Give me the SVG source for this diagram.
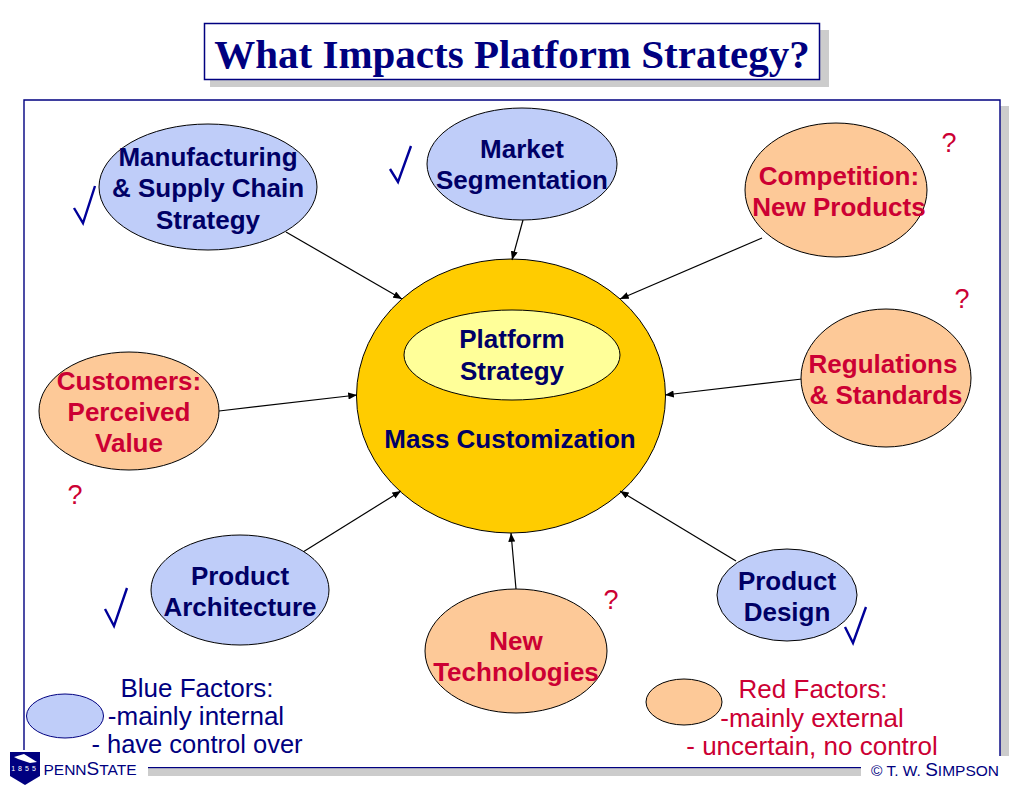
<svg xmlns="http://www.w3.org/2000/svg" width="1024" height="791" viewBox="0 0 1024 791">
<defs>
<marker id="arr" viewBox="0 0 10 8" refX="10" refY="4" markerWidth="9" markerHeight="7" markerUnits="userSpaceOnUse" orient="auto"><path d="M0 0L10 4L0 8Z" fill="#000"/></marker>
</defs>
<style>
text{font-family:"Liberation Sans",Arial,sans-serif;text-anchor:middle}
.b{font-weight:bold;font-size:26px}
.nv{fill:#000066}
.rd{fill:#cc0033}
.blue{fill:#bfcdf9;stroke:#000;stroke-width:1}
.org{fill:#fdc998;stroke:#000;stroke-width:1}
.f{font-size:26px}
.q{font-size:27px;fill:#cc0033}
.chk{fill:none;stroke:#000099;stroke-width:2.4}
.con line{stroke:#000;stroke-width:1.2;marker-end:url(#arr)}
.sm{font-size:15.500px}
.lg{font-size:19px}
</style>
<rect width="1024" height="791" fill="#fff"/>
<g id="frame">
<path d="M1000 106H1009V756H1000Z" fill="#cccccc"/>
<path d="M24 750V100H1000V756" fill="none" stroke="#000080" stroke-width="1.4"/>
</g>
<g id="title">
<rect x="210" y="30" width="619" height="57" fill="#cccccc"/>
<rect x="204.500" y="23.500" width="615" height="56" fill="#fff" stroke="#000080" stroke-width="1.5"/>
<text x="512" y="68" style="font-family:'Liberation Serif',serif;font-weight:bold;font-size:41px" fill="#000080">What Impacts Platform Strategy?</text>
</g>
<g id="mass"><ellipse cx="511" cy="396" rx="154.500" ry="137" fill="#ffcc00" stroke="#000" stroke-width="1"/><text class="b nv" x="510" y="448">Mass Customization</text></g>
<g id="platform"><ellipse cx="512" cy="355" rx="108" ry="45" fill="#ffff99" stroke="#000"/><text class="b nv" x="512" y="348">Platform</text><text class="b nv" x="512" y="380">Strategy</text></g>
<g id="connectors" class="con">
<line x1="286" y1="232" x2="402" y2="299"/>
<line x1="523" y1="220" x2="512" y2="260"/>
<line x1="762" y1="238" x2="620" y2="299"/>
<line x1="802" y1="379" x2="665" y2="395"/>
<line x1="219" y1="411" x2="357" y2="395"/>
<line x1="303" y1="552" x2="401" y2="491"/>
<line x1="516" y1="589" x2="511" y2="533"/>
<line x1="736" y1="561" x2="620" y2="491"/>
</g>
<g id="manufacturing"><ellipse cx="208" cy="187" rx="109" ry="63" class="blue"/><text class="b nv" x="208" y="166">Manufacturing</text><text class="b nv" x="208" y="197">&amp; Supply Chain</text><text class="b nv" x="208" y="229">Strategy</text></g>
<g id="market"><ellipse cx="522" cy="164" rx="95" ry="56" class="blue"/><text class="b nv" x="522" y="158">Market</text><text class="b nv" x="522" y="189">Segmentation</text></g>
<g id="competition"><ellipse cx="836" cy="190" rx="91" ry="67" class="org"/><text class="b rd" x="839" y="185">Competition:</text><text class="b rd" x="839" y="216">New Products</text></g>
<g id="regulations"><ellipse cx="886" cy="378" rx="85" ry="69" class="org"/><text class="b rd" x="883" y="373">Regulations</text><text class="b rd" x="886" y="404">&amp; Standards</text></g>
<g id="customers"><ellipse cx="129" cy="411" rx="90" ry="59" class="org"/><text class="b rd" x="129" y="390">Customers:</text><text class="b rd" x="129" y="421">Perceived</text><text class="b rd" x="129" y="452">Value</text></g>
<g id="architecture"><ellipse cx="240" cy="590" rx="89" ry="55" class="blue"/><text class="b nv" x="240" y="585">Product</text><text class="b nv" x="240" y="616">Architecture</text></g>
<g id="technologies"><ellipse cx="516" cy="651" rx="91" ry="62" class="org"/><text class="b rd" x="516" y="650">New</text><text class="b rd" x="516" y="681">Technologies</text></g>
<g id="design"><ellipse cx="787" cy="595" rx="70" ry="46" class="blue"/><text class="b nv" x="787" y="590">Product</text><text class="b nv" x="787" y="621">Design</text></g>
<g id="marks">
<path class="chk" d="M74 208L83 223L95 186"/>
<path class="chk" d="M390 169L398 182L411 146"/>
<path class="chk" d="M105 609L114 626L127 588"/>
<path class="chk" d="M845 627L853 643L866 607"/>
<text class="q" x="949" y="152">?</text>
<text class="q" x="962" y="308">?</text>
<text class="q" x="75" y="504">?</text>
<text class="q" x="611" y="609">?</text>
</g>
<g id="legend-blue"><ellipse cx="65" cy="716" rx="38.500" ry="22" fill="#bfcdf9" stroke="#000080"/><text class="f" x="197" y="697" fill="#000080">Blue Factors:</text><text class="f" x="196" y="725" fill="#000080">-mainly internal</text><text class="f" x="197" y="753" fill="#000080" style="font-size:25.500px">- have control over</text></g>
<g id="legend-red"><ellipse cx="684" cy="702" rx="38" ry="23" fill="#fdc998" stroke="#000"/><text class="f rd" x="813" y="698">Red Factors:</text><text class="f rd" x="812" y="727">-mainly external</text><text class="f rd" x="812" y="755">- uncertain, no control</text></g>
<g id="footer">
<rect x="148" y="768" width="713" height="8" fill="#cccccc"/>
<rect x="148" y="767" width="713" height="1.200" fill="#000080"/>
<path d="M10 752H40V776L25 785L10 776Z" fill="#000080"/>
<path d="M14 757L24 754L37 762L30 763L18 759Z" fill="#fff"/>
<text x="25" y="771" fill="#fff" style="font-size:7px;letter-spacing:3px">1855</text>
<text x="90" y="775" fill="#000080" class="sm">PENN<tspan class="lg">S</tspan>TATE</text>
<text x="935" y="776" fill="#000080" class="sm">© T. W. <tspan class="lg">S</tspan>IMPSON</text>
</g>
</svg>
